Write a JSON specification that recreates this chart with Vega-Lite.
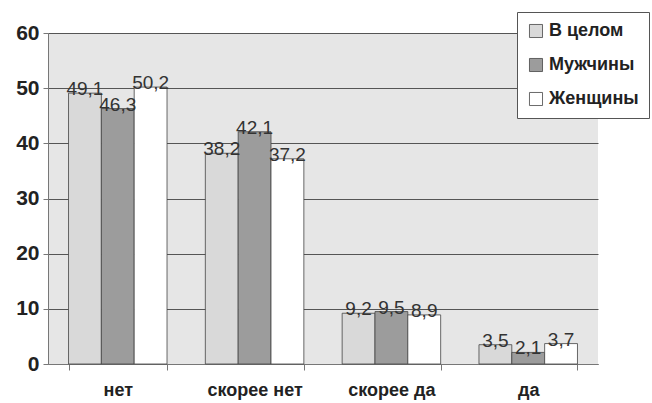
{
  "$schema": "https://vega.github.io/schema/vega-lite/v6.json",
  "width": 550,
  "height": 331,
  "autosize": {"type": "none"},
  "padding": {"left": 48, "top": 33, "right": 54, "bottom": 39},
  "background": "white",
  "config": {
    "locale": {"number": {"decimal": ",", "thousands": " ", "grouping": [3], "currency": ["", " ₽"]}},
    "view": {"fill": "#e6e6e6", "stroke": null},
    "font": "Liberation Sans"
  },
  "data": {
    "values": [
      {"cat": "нет", "series": "В целом", "value": 49.1},
      {"cat": "нет", "series": "Мужчины", "value": 46.3},
      {"cat": "нет", "series": "Женщины", "value": 50.2},
      {"cat": "скорее нет", "series": "В целом", "value": 38.2},
      {"cat": "скорее нет", "series": "Мужчины", "value": 42.1},
      {"cat": "скорее нет", "series": "Женщины", "value": 37.2},
      {"cat": "скорее да", "series": "В целом", "value": 9.2},
      {"cat": "скорее да", "series": "Мужчины", "value": 9.5},
      {"cat": "скорее да", "series": "Женщины", "value": 8.9},
      {"cat": "да", "series": "В целом", "value": 3.5},
      {"cat": "да", "series": "Мужчины", "value": 2.1},
      {"cat": "да", "series": "Женщины", "value": 3.7}
    ]
  },
  "encoding": {
    "x": {
      "field": "cat",
      "type": "nominal",
      "sort": ["нет", "скорее нет", "скорее да", "да"],
      "scale": {"paddingInner": 0.28, "paddingOuter": 0.15},
      "axis": {
        "title": null,
        "labelAngle": 0,
        "labelFont": "Liberation Sans",
        "labelFontWeight": "bold",
        "labelFontSize": 18,
        "labelColor": "#222",
        "labelPadding": 11,
        "domainColor": "#777",
        "tickColor": "#777",
        "tickBand": "extent",
        "tickSize": 6
      }
    },
    "xOffset": {
      "field": "series",
      "type": "nominal",
      "sort": ["В целом", "Мужчины", "Женщины"]
    },
    "y": {
      "field": "value",
      "type": "quantitative",
      "scale": {"domain": [0, 60]},
      "axis": {
        "title": null,
        "values": [0, 10, 20, 30, 40, 50, 60],
        "labelFont": "Liberation Sans",
        "labelFontWeight": "bold",
        "labelFontSize": 21,
        "labelColor": "#222",
        "labelPadding": 4,
        "domainColor": "#777",
        "tickColor": "#777",
        "tickSize": 5,
        "gridColor": "#555",
        "gridWidth": 1
      }
    }
  },
  "layer": [
    {
      "mark": {"type": "bar", "stroke": "#444", "strokeWidth": 0.8},
      "encoding": {
        "color": {
          "field": "series",
          "type": "nominal",
          "sort": ["В целом", "Мужчины", "Женщины"],
          "scale": {"domain": ["В целом", "Мужчины", "Женщины"], "range": ["#d9d9d9", "#9c9c9c", "#ffffff"]},
          "legend": {
            "title": null,
            "orient": "none",
            "legendX": 469,
            "legendY": -21,
            "symbolType": "square",
            "symbolSize": 170,
            "symbolStrokeColor": "#444",
            "symbolStrokeWidth": 0.8,
            "labelFont": "Liberation Sans",
            "labelFontSize": 18,
            "labelFontWeight": "bold",
            "labelColor": "#222",
            "rowPadding": 16,
            "padding": 10,
            "strokeColor": "#555",
            "fillColor": "white"
          }
        }
      }
    },
    {
      "mark": {"type": "text", "baseline": "bottom", "dy": 6, "fontSize": 19, "color": "#333", "font": "Liberation Sans"},
      "encoding": {
        "text": {"field": "value", "type": "quantitative", "format": ".1f"}
      }
    }
  ]
}
